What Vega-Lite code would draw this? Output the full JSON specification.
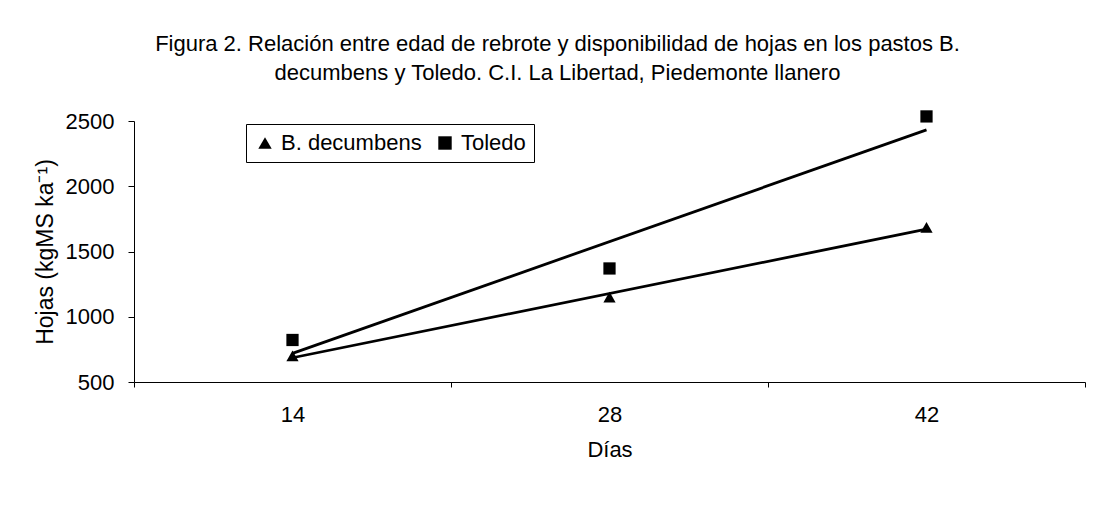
{
  "$schema": "https://vega.github.io/schema/vega-lite/v6.json",
  "autosize": {"type": "none"},
  "padding": {"left": 134, "top": 121, "right": 16, "bottom": 133},
  "width": 951,
  "height": 261,
  "background": "white",
  "config": {
    "font": "Liberation Sans",
    "view": {"stroke": null},
    "axis": {"grid": false, "domainColor": "black", "tickColor": "black", "labelColor": "black", "titleColor": "black", "labelFont": "Liberation Sans", "titleFont": "Liberation Sans", "titleFontWeight": "normal"}
  },
  "title": {
    "text": ["Figura 2. Relación entre edad de rebrote y disponibilidad de hojas en los pastos B.", "decumbens y Toledo. C.I. La Libertad, Piedemonte llanero"],
    "fontSize": 22,
    "fontWeight": "normal",
    "color": "black",
    "font": "Liberation Sans",
    "lineHeight": 29,
    "anchor": "middle",
    "offset": 25,
    "dx": -52
  },
  "data": {
    "values": [
      {"Serie": "B. decumbens", "Dias": 14, "Hojas": 700},
      {"Serie": "B. decumbens", "Dias": 28, "Hojas": 1150},
      {"Serie": "B. decumbens", "Dias": 42, "Hojas": 1685},
      {"Serie": "Toledo", "Dias": 14, "Hojas": 822},
      {"Serie": "Toledo", "Dias": 28, "Hojas": 1370},
      {"Serie": "Toledo", "Dias": 42, "Hojas": 2535}
    ]
  },
  "encoding": {
    "x": {
      "field": "Dias",
      "type": "quantitative",
      "scale": {"domain": [7, 49], "nice": false, "zero": false},
      "axis": {
        "title": "Días",
        "values": [7, 14, 21, 28, 35, 42, 49],
        "labelExpr": "datum.value % 14 == 0 ? datum.label : ''",
        "tickOpacity": {"condition": {"test": "datum.value % 14 == 0", "value": 0}, "value": 1},
        "tickSize": 5,
        "labelPadding": 17,
        "labelFontSize": 22,
        "titleFontSize": 22,
        "titlePadding": 14,
        "labelFlush": false,
        "labelOverlap": false
      }
    },
    "y": {
      "field": "Hojas",
      "type": "quantitative",
      "scale": {"domain": [500, 2500], "nice": false, "zero": false},
      "axis": {
        "title": "Hojas (kgMS ka⁻¹)",
        "values": [500, 1000, 1500, 2000, 2500],
        "format": "d",
        "tickSize": 6,
        "labelPadding": 14,
        "labelFontSize": 22,
        "titleFontSize": 23,
        "titlePadding": 8
      }
    }
  },
  "layer": [
    {
      "transform": [{"regression": "Hojas", "on": "Dias", "groupby": ["Serie"], "extent": [14, 42]}],
      "mark": {"type": "line", "color": "black", "strokeWidth": 2.8},
      "encoding": {"detail": {"field": "Serie"}}
    },
    {
      "mark": {"type": "point", "filled": true, "opacity": 1, "size": 150, "color": "black"},
      "encoding": {
        "shape": {
          "field": "Serie",
          "type": "nominal",
          "scale": {"domain": ["B. decumbens", "Toledo"], "range": ["triangle-up", "square"]},
          "legend": {
            "title": null,
            "orient": "none",
            "legendX": 112,
            "legendY": 3,
            "direction": "horizontal",
            "strokeColor": "black",
            "fillColor": "white",
            "padding": 8,
            "labelFontSize": 22,
            "labelColor": "black",
            "labelFont": "Liberation Sans",
            "symbolFillColor": "black",
            "symbolStrokeColor": "black",
            "symbolSize": 180,
            "columnPadding": 12,
            "labelOffset": 5
          }
        }
      }
    }
  ]
}
